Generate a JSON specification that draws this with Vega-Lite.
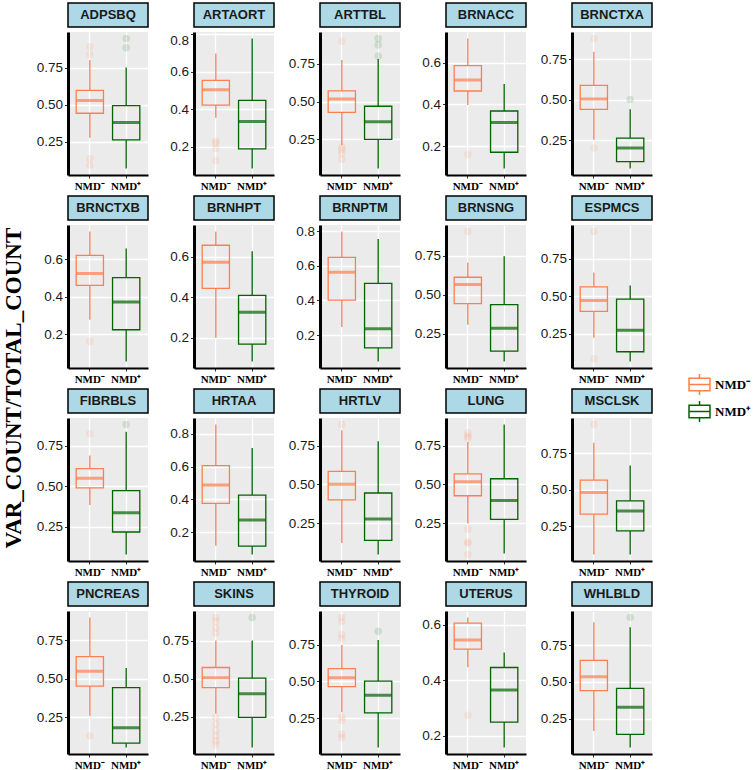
{
"$schema":"https://vega.github.io/schema/vega-lite/v6.json",
"padding":{"left":3,"top":2,"right":2,"bottom":2},
"title":{"text":"VAR_COUNT/TOTAL_COUNT","orient":"left","anchor":"middle","font":"Liberation Serif","fontSize":23,"fontWeight":"bold","color":"black","offset":10},
"datasets":{"d":[
{"t":"ADPSBQ","g":"NMD⁻","lo":0.275,"q1":0.441,"med":0.527,"q3":0.595,"hi":0.80},
{"t":"ADPSBQ","g":"NMD⁺","lo":0.068,"q1":0.261,"med":0.378,"q3":0.493,"hi":0.75},
{"t":"ARTAORT","g":"NMD⁻","lo":0.354,"q1":0.421,"med":0.503,"q3":0.553,"hi":0.696},
{"t":"ARTAORT","g":"NMD⁺","lo":0.083,"q1":0.188,"med":0.334,"q3":0.446,"hi":0.776},
{"t":"ARTTBL","g":"NMD⁻","lo":0.212,"q1":0.428,"med":0.517,"q3":0.57,"hi":0.773},
{"t":"ARTTBL","g":"NMD⁺","lo":0.059,"q1":0.251,"med":0.367,"q3":0.469,"hi":0.78},
{"t":"BRNACC","g":"NMD⁻","lo":0.397,"q1":0.464,"med":0.517,"q3":0.586,"hi":0.716},
{"t":"BRNACC","g":"NMD⁺","lo":0.092,"q1":0.17,"med":0.313,"q3":0.368,"hi":0.498},
{"t":"BRNCTXA","g":"NMD⁻","lo":0.252,"q1":0.439,"med":0.504,"q3":0.588,"hi":0.795},
{"t":"BRNCTXA","g":"NMD⁺","lo":0.074,"q1":0.117,"med":0.20,"q3":0.262,"hi":0.44},
{"t":"BRNCTXB","g":"NMD⁻","lo":0.277,"q1":0.46,"med":0.524,"q3":0.62,"hi":0.747},
{"t":"BRNCTXB","g":"NMD⁺","lo":0.055,"q1":0.224,"med":0.372,"q3":0.501,"hi":0.656},
{"t":"BRNHPT","g":"NMD⁻","lo":0.2,"q1":0.445,"med":0.574,"q3":0.658,"hi":0.726},
{"t":"BRNHPT","g":"NMD⁺","lo":0.083,"q1":0.169,"med":0.326,"q3":0.41,"hi":0.628},
{"t":"BRNPTM","g":"NMD⁻","lo":0.247,"q1":0.402,"med":0.562,"q3":0.649,"hi":0.798},
{"t":"BRNPTM","g":"NMD⁺","lo":0.047,"q1":0.126,"med":0.236,"q3":0.498,"hi":0.755},
{"t":"BRNSNG","g":"NMD⁻","lo":0.308,"q1":0.444,"med":0.566,"q3":0.613,"hi":0.707},
{"t":"BRNSNG","g":"NMD⁺","lo":0.073,"q1":0.139,"med":0.286,"q3":0.438,"hi":0.748},
{"t":"ESPMCS","g":"NMD⁻","lo":0.222,"q1":0.398,"med":0.471,"q3":0.562,"hi":0.658},
{"t":"ESPMCS","g":"NMD⁺","lo":0.064,"q1":0.129,"med":0.273,"q3":0.48,"hi":0.571},
{"t":"FIBRBLS","g":"NMD⁻","lo":0.383,"q1":0.49,"med":0.549,"q3":0.609,"hi":0.689},
{"t":"FIBRBLS","g":"NMD⁺","lo":0.078,"q1":0.217,"med":0.336,"q3":0.473,"hi":0.836},
{"t":"HRTAA","g":"NMD⁻","lo":0.117,"q1":0.376,"med":0.487,"q3":0.606,"hi":0.856},
{"t":"HRTAA","g":"NMD⁺","lo":0.064,"q1":0.115,"med":0.274,"q3":0.426,"hi":0.713},
{"t":"HRTLV","g":"NMD⁻","lo":0.121,"q1":0.399,"med":0.5,"q3":0.584,"hi":0.849},
{"t":"HRTLV","g":"NMD⁺","lo":0.047,"q1":0.138,"med":0.276,"q3":0.444,"hi":0.778},
{"t":"LUNG","g":"NMD⁻","lo":0.248,"q1":0.427,"med":0.517,"q3":0.569,"hi":0.774},
{"t":"LUNG","g":"NMD⁺","lo":0.054,"q1":0.274,"med":0.397,"q3":0.537,"hi":0.888},
{"t":"MSCLSK","g":"NMD⁻","lo":0.059,"q1":0.334,"med":0.482,"q3":0.566,"hi":0.82},
{"t":"MSCLSK","g":"NMD⁺","lo":0.059,"q1":0.22,"med":0.355,"q3":0.425,"hi":0.666},
{"t":"PNCREAS","g":"NMD⁻","lo":0.26,"q1":0.452,"med":0.548,"q3":0.643,"hi":0.896},
{"t":"PNCREAS","g":"NMD⁺","lo":0.054,"q1":0.082,"med":0.182,"q3":0.442,"hi":0.569},
{"t":"SKINS","g":"NMD⁻","lo":0.269,"q1":0.441,"med":0.507,"q3":0.574,"hi":0.753},
{"t":"SKINS","g":"NMD⁺","lo":0.046,"q1":0.245,"med":0.40,"q3":0.504,"hi":0.753},
{"t":"THYROID","g":"NMD⁻","lo":0.291,"q1":0.464,"med":0.525,"q3":0.587,"hi":0.747},
{"t":"THYROID","g":"NMD⁺","lo":0.052,"q1":0.287,"med":0.406,"q3":0.502,"hi":0.78},
{"t":"UTERUS","g":"NMD⁻","lo":0.447,"q1":0.512,"med":0.545,"q3":0.606,"hi":0.626},
{"t":"UTERUS","g":"NMD⁺","lo":0.158,"q1":0.249,"med":0.365,"q3":0.446,"hi":0.50},
{"t":"WHLBLD","g":"NMD⁻","lo":0.167,"q1":0.441,"med":0.536,"q3":0.647,"hi":0.907},
{"t":"WHLBLD","g":"NMD⁺","lo":0.054,"q1":0.143,"med":0.328,"q3":0.457,"hi":0.873},
{"t":"ADPSBQ","g":"NMD⁻","v":0.89},{"t":"ADPSBQ","g":"NMD⁻","v":0.84},{"t":"ADPSBQ","g":"NMD⁻","v":0.135},{"t":"ADPSBQ","g":"NMD⁻","v":0.09},
{"t":"ADPSBQ","g":"NMD⁺","v":0.946},{"t":"ADPSBQ","g":"NMD⁺","v":0.883},
{"t":"ARTAORT","g":"NMD⁻","v":0.229},{"t":"ARTAORT","g":"NMD⁻","v":0.217},{"t":"ARTAORT","g":"NMD⁻","v":0.19},{"t":"ARTAORT","g":"NMD⁻","v":0.126},
{"t":"ARTTBL","g":"NMD⁻","v":0.897},{"t":"ARTTBL","g":"NMD⁻","v":0.20},{"t":"ARTTBL","g":"NMD⁻","v":0.183},{"t":"ARTTBL","g":"NMD⁻","v":0.157},{"t":"ARTTBL","g":"NMD⁻","v":0.12},
{"t":"ARTTBL","g":"NMD⁺","v":0.915},{"t":"ARTTBL","g":"NMD⁺","v":0.873},{"t":"ARTTBL","g":"NMD⁺","v":0.80},
{"t":"BRNACC","g":"NMD⁻","v":0.159},
{"t":"BRNCTXA","g":"NMD⁻","v":0.877},{"t":"BRNCTXA","g":"NMD⁻","v":0.20},{"t":"BRNCTXA","g":"NMD⁺","v":0.50},
{"t":"BRNCTXB","g":"NMD⁻","v":0.162},
{"t":"BRNSNG","g":"NMD⁻","v":0.906},
{"t":"ESPMCS","g":"NMD⁻","v":0.931},{"t":"ESPMCS","g":"NMD⁻","v":0.084},
{"t":"FIBRBLS","g":"NMD⁻","v":0.824},{"t":"FIBRBLS","g":"NMD⁺","v":0.881},
{"t":"HRTLV","g":"NMD⁻","v":0.886},
{"t":"LUNG","g":"NMD⁻","v":0.834},{"t":"LUNG","g":"NMD⁻","v":0.812},{"t":"LUNG","g":"NMD⁻","v":0.80},{"t":"LUNG","g":"NMD⁻","v":0.211},{"t":"LUNG","g":"NMD⁻","v":0.129},{"t":"LUNG","g":"NMD⁻","v":0.118},{"t":"LUNG","g":"NMD⁻","v":0.047},
{"t":"MSCLSK","g":"NMD⁻","v":0.945},
{"t":"PNCREAS","g":"NMD⁻","v":0.13},
{"t":"SKINS","g":"NMD⁻","v":0.904},{"t":"SKINS","g":"NMD⁻","v":0.878},{"t":"SKINS","g":"NMD⁻","v":0.836},{"t":"SKINS","g":"NMD⁻","v":0.80},{"t":"SKINS","g":"NMD⁻","v":0.242},{"t":"SKINS","g":"NMD⁻","v":0.199},{"t":"SKINS","g":"NMD⁻","v":0.159},{"t":"SKINS","g":"NMD⁻","v":0.122},{"t":"SKINS","g":"NMD⁻","v":0.089},{"t":"SKINS","g":"NMD⁻","v":0.063},
{"t":"SKINS","g":"NMD⁺","v":0.904},
{"t":"THYROID","g":"NMD⁻","v":0.933},{"t":"THYROID","g":"NMD⁻","v":0.904},{"t":"THYROID","g":"NMD⁻","v":0.818},{"t":"THYROID","g":"NMD⁻","v":0.791},{"t":"THYROID","g":"NMD⁻","v":0.258},{"t":"THYROID","g":"NMD⁻","v":0.235},{"t":"THYROID","g":"NMD⁻","v":0.141},{"t":"THYROID","g":"NMD⁻","v":0.119},
{"t":"THYROID","g":"NMD⁺","v":0.839},
{"t":"UTERUS","g":"NMD⁻","v":0.274},
{"t":"WHLBLD","g":"NMD⁺","v":0.939}
]},
"columns":5,
"spacing":{"row":0,"column":13},
"align":{"row":"each","column":"all"},
"bounds":"full",
"concat":[
{"width":80,"height":24,"view":{"fill":"#ADD8E6","stroke":"black","strokeWidth":1.5},"data":{"values":[{"t":"ADPSBQ"}]},"mark":{"type":"text"},"encoding":{"text":{"field":"t"}}},
{"width":80,"height":24,"view":{"fill":"#ADD8E6","stroke":"black","strokeWidth":1.5},"data":{"values":[{"t":"ARTAORT"}]},"mark":{"type":"text"},"encoding":{"text":{"field":"t"}}},
{"width":80,"height":24,"view":{"fill":"#ADD8E6","stroke":"black","strokeWidth":1.5},"data":{"values":[{"t":"ARTTBL"}]},"mark":{"type":"text"},"encoding":{"text":{"field":"t"}}},
{"width":80,"height":24,"view":{"fill":"#ADD8E6","stroke":"black","strokeWidth":1.5},"data":{"values":[{"t":"BRNACC"}]},"mark":{"type":"text"},"encoding":{"text":{"field":"t"}}},
{"width":80,"height":24,"view":{"fill":"#ADD8E6","stroke":"black","strokeWidth":1.5},"data":{"values":[{"t":"BRNCTXA"}]},"mark":{"type":"text"},"encoding":{"text":{"field":"t"}}},
{"width":80,"height":143,"data":{"name":"d"},"transform":[{"filter":"datum.t==='ADPSBQ'"}],"encoding":{"x":{"field":"g","type":"nominal","sort":["NMD⁻","NMD⁺"],"title":null,"axis":{"grid":true,"bandPosition":0.5}},"color":{"field":"g","type":"nominal","title":null,"scale":{"domain":["NMD⁻","NMD⁺"],"range":["#FF7F50","#006400"]},"legend":{"orient":"none","legendX":620,"legendY":370,"symbolType":"M-1,-0.6H1V0.6H-1Z M-1,0H1 M0,-0.6V-1 M0,0.6V1","symbolSize":440,"symbolStrokeWidth":1.5,"symbolFillColor":"#F2F2F2"}}},"resolve":{"axis":{"y":"independent"}},"layer":[
{"layer":[
{"mark":{"type":"bar","filled":false,"strokeWidth":1.3},"encoding":{"y":{"field":"q1","type":"quantitative","scale":{"zero":false,"nice":false,"padding":6.5},"axis":{"title":null,"values":[0.25,0.5,0.75],"format":".2f"}},"y2":{"field":"q3"}}},
{"mark":{"type":"rule","strokeWidth":1.3},"encoding":{"y":{"field":"lo","type":"quantitative"},"y2":{"field":"q1"}}},
{"mark":{"type":"rule","strokeWidth":1.3},"encoding":{"y":{"field":"q3","type":"quantitative"},"y2":{"field":"hi"}}},
{"mark":{"type":"circle","filled":false,"size":13,"strokeWidth":4,"opacity":0.12},"encoding":{"y":{"field":"v","type":"quantitative"}}}]},
{"mark":{"type":"tick","filled":false,"thickness":1.5,"strokeWidth":1.5,"size":26},"encoding":{"y":{"field":"med","type":"quantitative","axis":{"title":null,"orient":"left","values":[0.125,0.375,0.625,0.875],"labels":false,"ticks":false,"domain":false,"gridWidth":0.6}}}}]},
{"width":80,"height":143,"data":{"name":"d"},"transform":[{"filter":"datum.t==='ARTAORT'"}],"encoding":{"x":{"field":"g","type":"nominal","sort":["NMD⁻","NMD⁺"],"title":null,"axis":{"grid":true,"bandPosition":0.5}},"color":{"field":"g","type":"nominal","title":null,"scale":{"domain":["NMD⁻","NMD⁺"],"range":["#FF7F50","#006400"]},"legend":{"orient":"none","legendX":620,"legendY":370,"symbolType":"M-1,-0.6H1V0.6H-1Z M-1,0H1 M0,-0.6V-1 M0,0.6V1","symbolSize":440,"symbolStrokeWidth":1.5,"symbolFillColor":"#F2F2F2"}}},"resolve":{"axis":{"y":"independent"}},"layer":[
{"layer":[
{"mark":{"type":"bar","filled":false,"strokeWidth":1.3},"encoding":{"y":{"field":"q1","type":"quantitative","scale":{"zero":false,"nice":false,"padding":6.5},"axis":{"title":null,"values":[0.2,0.4,0.6,0.8],"format":".1f","labelFlush":3}},"y2":{"field":"q3"}}},
{"mark":{"type":"rule","strokeWidth":1.3},"encoding":{"y":{"field":"lo","type":"quantitative"},"y2":{"field":"q1"}}},
{"mark":{"type":"rule","strokeWidth":1.3},"encoding":{"y":{"field":"q3","type":"quantitative"},"y2":{"field":"hi"}}},
{"mark":{"type":"circle","filled":false,"size":13,"strokeWidth":4,"opacity":0.12},"encoding":{"y":{"field":"v","type":"quantitative"}}}]},
{"mark":{"type":"tick","filled":false,"thickness":1.5,"strokeWidth":1.5,"size":26},"encoding":{"y":{"field":"med","type":"quantitative","axis":{"title":null,"orient":"left","values":[0.1,0.3,0.5,0.7,0.9],"labels":false,"ticks":false,"domain":false,"gridWidth":0.6}}}}]},
{"width":80,"height":143,"data":{"name":"d"},"transform":[{"filter":"datum.t==='ARTTBL'"}],"encoding":{"x":{"field":"g","type":"nominal","sort":["NMD⁻","NMD⁺"],"title":null,"axis":{"grid":true,"bandPosition":0.5}},"color":{"field":"g","type":"nominal","title":null,"scale":{"domain":["NMD⁻","NMD⁺"],"range":["#FF7F50","#006400"]},"legend":{"orient":"none","legendX":620,"legendY":370,"symbolType":"M-1,-0.6H1V0.6H-1Z M-1,0H1 M0,-0.6V-1 M0,0.6V1","symbolSize":440,"symbolStrokeWidth":1.5,"symbolFillColor":"#F2F2F2"}}},"resolve":{"axis":{"y":"independent"}},"layer":[
{"layer":[
{"mark":{"type":"bar","filled":false,"strokeWidth":1.3},"encoding":{"y":{"field":"q1","type":"quantitative","scale":{"zero":false,"nice":false,"padding":6.5},"axis":{"title":null,"values":[0.25,0.5,0.75],"format":".2f"}},"y2":{"field":"q3"}}},
{"mark":{"type":"rule","strokeWidth":1.3},"encoding":{"y":{"field":"lo","type":"quantitative"},"y2":{"field":"q1"}}},
{"mark":{"type":"rule","strokeWidth":1.3},"encoding":{"y":{"field":"q3","type":"quantitative"},"y2":{"field":"hi"}}},
{"mark":{"type":"circle","filled":false,"size":13,"strokeWidth":4,"opacity":0.12},"encoding":{"y":{"field":"v","type":"quantitative"}}}]},
{"mark":{"type":"tick","filled":false,"thickness":1.5,"strokeWidth":1.5,"size":26},"encoding":{"y":{"field":"med","type":"quantitative","axis":{"title":null,"orient":"left","values":[0.125,0.375,0.625,0.875],"labels":false,"ticks":false,"domain":false,"gridWidth":0.6}}}}]},
{"width":80,"height":143,"data":{"name":"d"},"transform":[{"filter":"datum.t==='BRNACC'"}],"encoding":{"x":{"field":"g","type":"nominal","sort":["NMD⁻","NMD⁺"],"title":null,"axis":{"grid":true,"bandPosition":0.5}},"color":{"field":"g","type":"nominal","title":null,"scale":{"domain":["NMD⁻","NMD⁺"],"range":["#FF7F50","#006400"]},"legend":{"orient":"none","legendX":620,"legendY":370,"symbolType":"M-1,-0.6H1V0.6H-1Z M-1,0H1 M0,-0.6V-1 M0,0.6V1","symbolSize":440,"symbolStrokeWidth":1.5,"symbolFillColor":"#F2F2F2"}}},"resolve":{"axis":{"y":"independent"}},"layer":[
{"layer":[
{"mark":{"type":"bar","filled":false,"strokeWidth":1.3},"encoding":{"y":{"field":"q1","type":"quantitative","scale":{"zero":false,"nice":false,"padding":6.5},"axis":{"title":null,"values":[0.2,0.4,0.6,0.8],"format":".1f"}},"y2":{"field":"q3"}}},
{"mark":{"type":"rule","strokeWidth":1.3},"encoding":{"y":{"field":"lo","type":"quantitative"},"y2":{"field":"q1"}}},
{"mark":{"type":"rule","strokeWidth":1.3},"encoding":{"y":{"field":"q3","type":"quantitative"},"y2":{"field":"hi"}}},
{"mark":{"type":"circle","filled":false,"size":13,"strokeWidth":4,"opacity":0.12},"encoding":{"y":{"field":"v","type":"quantitative"}}}]},
{"mark":{"type":"tick","filled":false,"thickness":1.5,"strokeWidth":1.5,"size":26},"encoding":{"y":{"field":"med","type":"quantitative","axis":{"title":null,"orient":"left","values":[0.1,0.3,0.5,0.7,0.9],"labels":false,"ticks":false,"domain":false,"gridWidth":0.6}}}}]},
{"width":80,"height":143,"data":{"name":"d"},"transform":[{"filter":"datum.t==='BRNCTXA'"}],"encoding":{"x":{"field":"g","type":"nominal","sort":["NMD⁻","NMD⁺"],"title":null,"axis":{"grid":true,"bandPosition":0.5}},"color":{"field":"g","type":"nominal","title":null,"scale":{"domain":["NMD⁻","NMD⁺"],"range":["#FF7F50","#006400"]},"legend":{"orient":"none","legendX":620,"legendY":370,"symbolType":"M-1,-0.6H1V0.6H-1Z M-1,0H1 M0,-0.6V-1 M0,0.6V1","symbolSize":440,"symbolStrokeWidth":1.5,"symbolFillColor":"#F2F2F2"}}},"resolve":{"axis":{"y":"independent"}},"layer":[
{"layer":[
{"mark":{"type":"bar","filled":false,"strokeWidth":1.3},"encoding":{"y":{"field":"q1","type":"quantitative","scale":{"zero":false,"nice":false,"padding":6.5},"axis":{"title":null,"values":[0.25,0.5,0.75],"format":".2f"}},"y2":{"field":"q3"}}},
{"mark":{"type":"rule","strokeWidth":1.3},"encoding":{"y":{"field":"lo","type":"quantitative"},"y2":{"field":"q1"}}},
{"mark":{"type":"rule","strokeWidth":1.3},"encoding":{"y":{"field":"q3","type":"quantitative"},"y2":{"field":"hi"}}},
{"mark":{"type":"circle","filled":false,"size":13,"strokeWidth":4,"opacity":0.12},"encoding":{"y":{"field":"v","type":"quantitative"}}}]},
{"mark":{"type":"tick","filled":false,"thickness":1.5,"strokeWidth":1.5,"size":26},"encoding":{"y":{"field":"med","type":"quantitative","axis":{"title":null,"orient":"left","values":[0.125,0.375,0.625,0.875],"labels":false,"ticks":false,"domain":false,"gridWidth":0.6}}}}]},
{"width":80,"height":24,"view":{"fill":"#ADD8E6","stroke":"black","strokeWidth":1.5},"data":{"values":[{"t":"BRNCTXB"}]},"mark":{"type":"text"},"encoding":{"text":{"field":"t"}}},
{"width":80,"height":24,"view":{"fill":"#ADD8E6","stroke":"black","strokeWidth":1.5},"data":{"values":[{"t":"BRNHPT"}]},"mark":{"type":"text"},"encoding":{"text":{"field":"t"}}},
{"width":80,"height":24,"view":{"fill":"#ADD8E6","stroke":"black","strokeWidth":1.5},"data":{"values":[{"t":"BRNPTM"}]},"mark":{"type":"text"},"encoding":{"text":{"field":"t"}}},
{"width":80,"height":24,"view":{"fill":"#ADD8E6","stroke":"black","strokeWidth":1.5},"data":{"values":[{"t":"BRNSNG"}]},"mark":{"type":"text"},"encoding":{"text":{"field":"t"}}},
{"width":80,"height":24,"view":{"fill":"#ADD8E6","stroke":"black","strokeWidth":1.5},"data":{"values":[{"t":"ESPMCS"}]},"mark":{"type":"text"},"encoding":{"text":{"field":"t"}}},
{"width":80,"height":143,"data":{"name":"d"},"transform":[{"filter":"datum.t==='BRNCTXB'"}],"encoding":{"x":{"field":"g","type":"nominal","sort":["NMD⁻","NMD⁺"],"title":null,"axis":{"grid":true,"bandPosition":0.5}},"color":{"field":"g","type":"nominal","title":null,"scale":{"domain":["NMD⁻","NMD⁺"],"range":["#FF7F50","#006400"]},"legend":{"orient":"none","legendX":620,"legendY":370,"symbolType":"M-1,-0.6H1V0.6H-1Z M-1,0H1 M0,-0.6V-1 M0,0.6V1","symbolSize":440,"symbolStrokeWidth":1.5,"symbolFillColor":"#F2F2F2"}}},"resolve":{"axis":{"y":"independent"}},"layer":[
{"layer":[
{"mark":{"type":"bar","filled":false,"strokeWidth":1.3},"encoding":{"y":{"field":"q1","type":"quantitative","scale":{"zero":false,"nice":false,"padding":6.5},"axis":{"title":null,"values":[0.2,0.4,0.6,0.8],"format":".1f"}},"y2":{"field":"q3"}}},
{"mark":{"type":"rule","strokeWidth":1.3},"encoding":{"y":{"field":"lo","type":"quantitative"},"y2":{"field":"q1"}}},
{"mark":{"type":"rule","strokeWidth":1.3},"encoding":{"y":{"field":"q3","type":"quantitative"},"y2":{"field":"hi"}}},
{"mark":{"type":"circle","filled":false,"size":13,"strokeWidth":4,"opacity":0.12},"encoding":{"y":{"field":"v","type":"quantitative"}}}]},
{"mark":{"type":"tick","filled":false,"thickness":1.5,"strokeWidth":1.5,"size":26},"encoding":{"y":{"field":"med","type":"quantitative","axis":{"title":null,"orient":"left","values":[0.1,0.3,0.5,0.7,0.9],"labels":false,"ticks":false,"domain":false,"gridWidth":0.6}}}}]},
{"width":80,"height":143,"data":{"name":"d"},"transform":[{"filter":"datum.t==='BRNHPT'"}],"encoding":{"x":{"field":"g","type":"nominal","sort":["NMD⁻","NMD⁺"],"title":null,"axis":{"grid":true,"bandPosition":0.5}},"color":{"field":"g","type":"nominal","title":null,"scale":{"domain":["NMD⁻","NMD⁺"],"range":["#FF7F50","#006400"]},"legend":{"orient":"none","legendX":620,"legendY":370,"symbolType":"M-1,-0.6H1V0.6H-1Z M-1,0H1 M0,-0.6V-1 M0,0.6V1","symbolSize":440,"symbolStrokeWidth":1.5,"symbolFillColor":"#F2F2F2"}}},"resolve":{"axis":{"y":"independent"}},"layer":[
{"layer":[
{"mark":{"type":"bar","filled":false,"strokeWidth":1.3},"encoding":{"y":{"field":"q1","type":"quantitative","scale":{"zero":false,"nice":false,"padding":6.5},"axis":{"title":null,"values":[0.2,0.4,0.6,0.8],"format":".1f"}},"y2":{"field":"q3"}}},
{"mark":{"type":"rule","strokeWidth":1.3},"encoding":{"y":{"field":"lo","type":"quantitative"},"y2":{"field":"q1"}}},
{"mark":{"type":"rule","strokeWidth":1.3},"encoding":{"y":{"field":"q3","type":"quantitative"},"y2":{"field":"hi"}}},
{"mark":{"type":"circle","filled":false,"size":13,"strokeWidth":4,"opacity":0.12},"encoding":{"y":{"field":"v","type":"quantitative"}}}]},
{"mark":{"type":"tick","filled":false,"thickness":1.5,"strokeWidth":1.5,"size":26},"encoding":{"y":{"field":"med","type":"quantitative","axis":{"title":null,"orient":"left","values":[0.1,0.3,0.5,0.7,0.9],"labels":false,"ticks":false,"domain":false,"gridWidth":0.6}}}}]},
{"width":80,"height":143,"data":{"name":"d"},"transform":[{"filter":"datum.t==='BRNPTM'"}],"encoding":{"x":{"field":"g","type":"nominal","sort":["NMD⁻","NMD⁺"],"title":null,"axis":{"grid":true,"bandPosition":0.5}},"color":{"field":"g","type":"nominal","title":null,"scale":{"domain":["NMD⁻","NMD⁺"],"range":["#FF7F50","#006400"]},"legend":{"orient":"none","legendX":620,"legendY":370,"symbolType":"M-1,-0.6H1V0.6H-1Z M-1,0H1 M0,-0.6V-1 M0,0.6V1","symbolSize":440,"symbolStrokeWidth":1.5,"symbolFillColor":"#F2F2F2"}}},"resolve":{"axis":{"y":"independent"}},"layer":[
{"layer":[
{"mark":{"type":"bar","filled":false,"strokeWidth":1.3},"encoding":{"y":{"field":"q1","type":"quantitative","scale":{"zero":false,"nice":false,"padding":6.5},"axis":{"title":null,"values":[0.2,0.4,0.6,0.8],"format":".1f"}},"y2":{"field":"q3"}}},
{"mark":{"type":"rule","strokeWidth":1.3},"encoding":{"y":{"field":"lo","type":"quantitative"},"y2":{"field":"q1"}}},
{"mark":{"type":"rule","strokeWidth":1.3},"encoding":{"y":{"field":"q3","type":"quantitative"},"y2":{"field":"hi"}}},
{"mark":{"type":"circle","filled":false,"size":13,"strokeWidth":4,"opacity":0.12},"encoding":{"y":{"field":"v","type":"quantitative"}}}]},
{"mark":{"type":"tick","filled":false,"thickness":1.5,"strokeWidth":1.5,"size":26},"encoding":{"y":{"field":"med","type":"quantitative","axis":{"title":null,"orient":"left","values":[0.1,0.3,0.5,0.7,0.9],"labels":false,"ticks":false,"domain":false,"gridWidth":0.6}}}}]},
{"width":80,"height":143,"data":{"name":"d"},"transform":[{"filter":"datum.t==='BRNSNG'"}],"encoding":{"x":{"field":"g","type":"nominal","sort":["NMD⁻","NMD⁺"],"title":null,"axis":{"grid":true,"bandPosition":0.5}},"color":{"field":"g","type":"nominal","title":null,"scale":{"domain":["NMD⁻","NMD⁺"],"range":["#FF7F50","#006400"]},"legend":{"orient":"none","legendX":620,"legendY":370,"symbolType":"M-1,-0.6H1V0.6H-1Z M-1,0H1 M0,-0.6V-1 M0,0.6V1","symbolSize":440,"symbolStrokeWidth":1.5,"symbolFillColor":"#F2F2F2"}}},"resolve":{"axis":{"y":"independent"}},"layer":[
{"layer":[
{"mark":{"type":"bar","filled":false,"strokeWidth":1.3},"encoding":{"y":{"field":"q1","type":"quantitative","scale":{"zero":false,"nice":false,"padding":6.5},"axis":{"title":null,"values":[0.25,0.5,0.75],"format":".2f"}},"y2":{"field":"q3"}}},
{"mark":{"type":"rule","strokeWidth":1.3},"encoding":{"y":{"field":"lo","type":"quantitative"},"y2":{"field":"q1"}}},
{"mark":{"type":"rule","strokeWidth":1.3},"encoding":{"y":{"field":"q3","type":"quantitative"},"y2":{"field":"hi"}}},
{"mark":{"type":"circle","filled":false,"size":13,"strokeWidth":4,"opacity":0.12},"encoding":{"y":{"field":"v","type":"quantitative"}}}]},
{"mark":{"type":"tick","filled":false,"thickness":1.5,"strokeWidth":1.5,"size":26},"encoding":{"y":{"field":"med","type":"quantitative","axis":{"title":null,"orient":"left","values":[0.125,0.375,0.625,0.875],"labels":false,"ticks":false,"domain":false,"gridWidth":0.6}}}}]},
{"width":80,"height":143,"data":{"name":"d"},"transform":[{"filter":"datum.t==='ESPMCS'"}],"encoding":{"x":{"field":"g","type":"nominal","sort":["NMD⁻","NMD⁺"],"title":null,"axis":{"grid":true,"bandPosition":0.5}},"color":{"field":"g","type":"nominal","title":null,"scale":{"domain":["NMD⁻","NMD⁺"],"range":["#FF7F50","#006400"]},"legend":{"orient":"none","legendX":620,"legendY":370,"symbolType":"M-1,-0.6H1V0.6H-1Z M-1,0H1 M0,-0.6V-1 M0,0.6V1","symbolSize":440,"symbolStrokeWidth":1.5,"symbolFillColor":"#F2F2F2"}}},"resolve":{"axis":{"y":"independent"}},"layer":[
{"layer":[
{"mark":{"type":"bar","filled":false,"strokeWidth":1.3},"encoding":{"y":{"field":"q1","type":"quantitative","scale":{"zero":false,"nice":false,"padding":6.5},"axis":{"title":null,"values":[0.25,0.5,0.75],"format":".2f"}},"y2":{"field":"q3"}}},
{"mark":{"type":"rule","strokeWidth":1.3},"encoding":{"y":{"field":"lo","type":"quantitative"},"y2":{"field":"q1"}}},
{"mark":{"type":"rule","strokeWidth":1.3},"encoding":{"y":{"field":"q3","type":"quantitative"},"y2":{"field":"hi"}}},
{"mark":{"type":"circle","filled":false,"size":13,"strokeWidth":4,"opacity":0.12},"encoding":{"y":{"field":"v","type":"quantitative"}}}]},
{"mark":{"type":"tick","filled":false,"thickness":1.5,"strokeWidth":1.5,"size":26},"encoding":{"y":{"field":"med","type":"quantitative","axis":{"title":null,"orient":"left","values":[0.125,0.375,0.625,0.875],"labels":false,"ticks":false,"domain":false,"gridWidth":0.6}}}}]},
{"width":80,"height":24,"view":{"fill":"#ADD8E6","stroke":"black","strokeWidth":1.5},"data":{"values":[{"t":"FIBRBLS"}]},"mark":{"type":"text"},"encoding":{"text":{"field":"t"}}},
{"width":80,"height":24,"view":{"fill":"#ADD8E6","stroke":"black","strokeWidth":1.5},"data":{"values":[{"t":"HRTAA"}]},"mark":{"type":"text"},"encoding":{"text":{"field":"t"}}},
{"width":80,"height":24,"view":{"fill":"#ADD8E6","stroke":"black","strokeWidth":1.5},"data":{"values":[{"t":"HRTLV"}]},"mark":{"type":"text"},"encoding":{"text":{"field":"t"}}},
{"width":80,"height":24,"view":{"fill":"#ADD8E6","stroke":"black","strokeWidth":1.5},"data":{"values":[{"t":"LUNG"}]},"mark":{"type":"text"},"encoding":{"text":{"field":"t"}}},
{"width":80,"height":24,"view":{"fill":"#ADD8E6","stroke":"black","strokeWidth":1.5},"data":{"values":[{"t":"MSCLSK"}]},"mark":{"type":"text"},"encoding":{"text":{"field":"t"}}},
{"width":80,"height":143,"data":{"name":"d"},"transform":[{"filter":"datum.t==='FIBRBLS'"}],"encoding":{"x":{"field":"g","type":"nominal","sort":["NMD⁻","NMD⁺"],"title":null,"axis":{"grid":true,"bandPosition":0.5}},"color":{"field":"g","type":"nominal","title":null,"scale":{"domain":["NMD⁻","NMD⁺"],"range":["#FF7F50","#006400"]},"legend":{"orient":"none","legendX":620,"legendY":370,"symbolType":"M-1,-0.6H1V0.6H-1Z M-1,0H1 M0,-0.6V-1 M0,0.6V1","symbolSize":440,"symbolStrokeWidth":1.5,"symbolFillColor":"#F2F2F2"}}},"resolve":{"axis":{"y":"independent"}},"layer":[
{"layer":[
{"mark":{"type":"bar","filled":false,"strokeWidth":1.3},"encoding":{"y":{"field":"q1","type":"quantitative","scale":{"zero":false,"nice":false,"padding":6.5},"axis":{"title":null,"values":[0.25,0.5,0.75],"format":".2f"}},"y2":{"field":"q3"}}},
{"mark":{"type":"rule","strokeWidth":1.3},"encoding":{"y":{"field":"lo","type":"quantitative"},"y2":{"field":"q1"}}},
{"mark":{"type":"rule","strokeWidth":1.3},"encoding":{"y":{"field":"q3","type":"quantitative"},"y2":{"field":"hi"}}},
{"mark":{"type":"circle","filled":false,"size":13,"strokeWidth":4,"opacity":0.12},"encoding":{"y":{"field":"v","type":"quantitative"}}}]},
{"mark":{"type":"tick","filled":false,"thickness":1.5,"strokeWidth":1.5,"size":26},"encoding":{"y":{"field":"med","type":"quantitative","axis":{"title":null,"orient":"left","values":[0.125,0.375,0.625,0.875],"labels":false,"ticks":false,"domain":false,"gridWidth":0.6}}}}]},
{"width":80,"height":143,"data":{"name":"d"},"transform":[{"filter":"datum.t==='HRTAA'"}],"encoding":{"x":{"field":"g","type":"nominal","sort":["NMD⁻","NMD⁺"],"title":null,"axis":{"grid":true,"bandPosition":0.5}},"color":{"field":"g","type":"nominal","title":null,"scale":{"domain":["NMD⁻","NMD⁺"],"range":["#FF7F50","#006400"]},"legend":{"orient":"none","legendX":620,"legendY":370,"symbolType":"M-1,-0.6H1V0.6H-1Z M-1,0H1 M0,-0.6V-1 M0,0.6V1","symbolSize":440,"symbolStrokeWidth":1.5,"symbolFillColor":"#F2F2F2"}}},"resolve":{"axis":{"y":"independent"}},"layer":[
{"layer":[
{"mark":{"type":"bar","filled":false,"strokeWidth":1.3},"encoding":{"y":{"field":"q1","type":"quantitative","scale":{"zero":false,"nice":false,"padding":6.5},"axis":{"title":null,"values":[0.2,0.4,0.6,0.8],"format":".1f"}},"y2":{"field":"q3"}}},
{"mark":{"type":"rule","strokeWidth":1.3},"encoding":{"y":{"field":"lo","type":"quantitative"},"y2":{"field":"q1"}}},
{"mark":{"type":"rule","strokeWidth":1.3},"encoding":{"y":{"field":"q3","type":"quantitative"},"y2":{"field":"hi"}}},
{"mark":{"type":"circle","filled":false,"size":13,"strokeWidth":4,"opacity":0.12},"encoding":{"y":{"field":"v","type":"quantitative"}}}]},
{"mark":{"type":"tick","filled":false,"thickness":1.5,"strokeWidth":1.5,"size":26},"encoding":{"y":{"field":"med","type":"quantitative","axis":{"title":null,"orient":"left","values":[0.1,0.3,0.5,0.7,0.9],"labels":false,"ticks":false,"domain":false,"gridWidth":0.6}}}}]},
{"width":80,"height":143,"data":{"name":"d"},"transform":[{"filter":"datum.t==='HRTLV'"}],"encoding":{"x":{"field":"g","type":"nominal","sort":["NMD⁻","NMD⁺"],"title":null,"axis":{"grid":true,"bandPosition":0.5}},"color":{"field":"g","type":"nominal","title":null,"scale":{"domain":["NMD⁻","NMD⁺"],"range":["#FF7F50","#006400"]},"legend":{"orient":"none","legendX":620,"legendY":370,"symbolType":"M-1,-0.6H1V0.6H-1Z M-1,0H1 M0,-0.6V-1 M0,0.6V1","symbolSize":440,"symbolStrokeWidth":1.5,"symbolFillColor":"#F2F2F2"}}},"resolve":{"axis":{"y":"independent"}},"layer":[
{"layer":[
{"mark":{"type":"bar","filled":false,"strokeWidth":1.3},"encoding":{"y":{"field":"q1","type":"quantitative","scale":{"zero":false,"nice":false,"padding":6.5},"axis":{"title":null,"values":[0.25,0.5,0.75],"format":".2f"}},"y2":{"field":"q3"}}},
{"mark":{"type":"rule","strokeWidth":1.3},"encoding":{"y":{"field":"lo","type":"quantitative"},"y2":{"field":"q1"}}},
{"mark":{"type":"rule","strokeWidth":1.3},"encoding":{"y":{"field":"q3","type":"quantitative"},"y2":{"field":"hi"}}},
{"mark":{"type":"circle","filled":false,"size":13,"strokeWidth":4,"opacity":0.12},"encoding":{"y":{"field":"v","type":"quantitative"}}}]},
{"mark":{"type":"tick","filled":false,"thickness":1.5,"strokeWidth":1.5,"size":26},"encoding":{"y":{"field":"med","type":"quantitative","axis":{"title":null,"orient":"left","values":[0.125,0.375,0.625,0.875],"labels":false,"ticks":false,"domain":false,"gridWidth":0.6}}}}]},
{"width":80,"height":143,"data":{"name":"d"},"transform":[{"filter":"datum.t==='LUNG'"}],"encoding":{"x":{"field":"g","type":"nominal","sort":["NMD⁻","NMD⁺"],"title":null,"axis":{"grid":true,"bandPosition":0.5}},"color":{"field":"g","type":"nominal","title":null,"scale":{"domain":["NMD⁻","NMD⁺"],"range":["#FF7F50","#006400"]},"legend":{"orient":"none","legendX":620,"legendY":370,"symbolType":"M-1,-0.6H1V0.6H-1Z M-1,0H1 M0,-0.6V-1 M0,0.6V1","symbolSize":440,"symbolStrokeWidth":1.5,"symbolFillColor":"#F2F2F2"}}},"resolve":{"axis":{"y":"independent"}},"layer":[
{"layer":[
{"mark":{"type":"bar","filled":false,"strokeWidth":1.3},"encoding":{"y":{"field":"q1","type":"quantitative","scale":{"zero":false,"nice":false,"padding":6.5},"axis":{"title":null,"values":[0.25,0.5,0.75],"format":".2f"}},"y2":{"field":"q3"}}},
{"mark":{"type":"rule","strokeWidth":1.3},"encoding":{"y":{"field":"lo","type":"quantitative"},"y2":{"field":"q1"}}},
{"mark":{"type":"rule","strokeWidth":1.3},"encoding":{"y":{"field":"q3","type":"quantitative"},"y2":{"field":"hi"}}},
{"mark":{"type":"circle","filled":false,"size":13,"strokeWidth":4,"opacity":0.12},"encoding":{"y":{"field":"v","type":"quantitative"}}}]},
{"mark":{"type":"tick","filled":false,"thickness":1.5,"strokeWidth":1.5,"size":26},"encoding":{"y":{"field":"med","type":"quantitative","axis":{"title":null,"orient":"left","values":[0.125,0.375,0.625,0.875],"labels":false,"ticks":false,"domain":false,"gridWidth":0.6}}}}]},
{"width":80,"height":143,"data":{"name":"d"},"transform":[{"filter":"datum.t==='MSCLSK'"}],"encoding":{"x":{"field":"g","type":"nominal","sort":["NMD⁻","NMD⁺"],"title":null,"axis":{"grid":true,"bandPosition":0.5}},"color":{"field":"g","type":"nominal","title":null,"scale":{"domain":["NMD⁻","NMD⁺"],"range":["#FF7F50","#006400"]},"legend":{"orient":"none","legendX":620,"legendY":370,"symbolType":"M-1,-0.6H1V0.6H-1Z M-1,0H1 M0,-0.6V-1 M0,0.6V1","symbolSize":440,"symbolStrokeWidth":1.5,"symbolFillColor":"#F2F2F2"}}},"resolve":{"axis":{"y":"independent"}},"layer":[
{"layer":[
{"mark":{"type":"bar","filled":false,"strokeWidth":1.3},"encoding":{"y":{"field":"q1","type":"quantitative","scale":{"zero":false,"nice":false,"padding":6.5},"axis":{"title":null,"values":[0.25,0.5,0.75],"format":".2f"}},"y2":{"field":"q3"}}},
{"mark":{"type":"rule","strokeWidth":1.3},"encoding":{"y":{"field":"lo","type":"quantitative"},"y2":{"field":"q1"}}},
{"mark":{"type":"rule","strokeWidth":1.3},"encoding":{"y":{"field":"q3","type":"quantitative"},"y2":{"field":"hi"}}},
{"mark":{"type":"circle","filled":false,"size":13,"strokeWidth":4,"opacity":0.12},"encoding":{"y":{"field":"v","type":"quantitative"}}}]},
{"mark":{"type":"tick","filled":false,"thickness":1.5,"strokeWidth":1.5,"size":26},"encoding":{"y":{"field":"med","type":"quantitative","axis":{"title":null,"orient":"left","values":[0.125,0.375,0.625,0.875],"labels":false,"ticks":false,"domain":false,"gridWidth":0.6}}}}]},
{"width":80,"height":24,"view":{"fill":"#ADD8E6","stroke":"black","strokeWidth":1.5},"data":{"values":[{"t":"PNCREAS"}]},"mark":{"type":"text"},"encoding":{"text":{"field":"t"}}},
{"width":80,"height":24,"view":{"fill":"#ADD8E6","stroke":"black","strokeWidth":1.5},"data":{"values":[{"t":"SKINS"}]},"mark":{"type":"text"},"encoding":{"text":{"field":"t"}}},
{"width":80,"height":24,"view":{"fill":"#ADD8E6","stroke":"black","strokeWidth":1.5},"data":{"values":[{"t":"THYROID"}]},"mark":{"type":"text"},"encoding":{"text":{"field":"t"}}},
{"width":80,"height":24,"view":{"fill":"#ADD8E6","stroke":"black","strokeWidth":1.5},"data":{"values":[{"t":"UTERUS"}]},"mark":{"type":"text"},"encoding":{"text":{"field":"t"}}},
{"width":80,"height":24,"view":{"fill":"#ADD8E6","stroke":"black","strokeWidth":1.5},"data":{"values":[{"t":"WHLBLD"}]},"mark":{"type":"text"},"encoding":{"text":{"field":"t"}}},
{"width":80,"height":143,"data":{"name":"d"},"transform":[{"filter":"datum.t==='PNCREAS'"}],"encoding":{"x":{"field":"g","type":"nominal","sort":["NMD⁻","NMD⁺"],"title":null,"axis":{"grid":true,"bandPosition":0.5}},"color":{"field":"g","type":"nominal","title":null,"scale":{"domain":["NMD⁻","NMD⁺"],"range":["#FF7F50","#006400"]},"legend":{"orient":"none","legendX":620,"legendY":370,"symbolType":"M-1,-0.6H1V0.6H-1Z M-1,0H1 M0,-0.6V-1 M0,0.6V1","symbolSize":440,"symbolStrokeWidth":1.5,"symbolFillColor":"#F2F2F2"}}},"resolve":{"axis":{"y":"independent"}},"layer":[
{"layer":[
{"mark":{"type":"bar","filled":false,"strokeWidth":1.3},"encoding":{"y":{"field":"q1","type":"quantitative","scale":{"zero":false,"nice":false,"padding":6.5},"axis":{"title":null,"values":[0.25,0.5,0.75],"format":".2f"}},"y2":{"field":"q3"}}},
{"mark":{"type":"rule","strokeWidth":1.3},"encoding":{"y":{"field":"lo","type":"quantitative"},"y2":{"field":"q1"}}},
{"mark":{"type":"rule","strokeWidth":1.3},"encoding":{"y":{"field":"q3","type":"quantitative"},"y2":{"field":"hi"}}},
{"mark":{"type":"circle","filled":false,"size":13,"strokeWidth":4,"opacity":0.12},"encoding":{"y":{"field":"v","type":"quantitative"}}}]},
{"mark":{"type":"tick","filled":false,"thickness":1.5,"strokeWidth":1.5,"size":26},"encoding":{"y":{"field":"med","type":"quantitative","axis":{"title":null,"orient":"left","values":[0.125,0.375,0.625,0.875],"labels":false,"ticks":false,"domain":false,"gridWidth":0.6}}}}]},
{"width":80,"height":143,"data":{"name":"d"},"transform":[{"filter":"datum.t==='SKINS'"}],"encoding":{"x":{"field":"g","type":"nominal","sort":["NMD⁻","NMD⁺"],"title":null,"axis":{"grid":true,"bandPosition":0.5}},"color":{"field":"g","type":"nominal","title":null,"scale":{"domain":["NMD⁻","NMD⁺"],"range":["#FF7F50","#006400"]},"legend":{"orient":"none","legendX":620,"legendY":370,"symbolType":"M-1,-0.6H1V0.6H-1Z M-1,0H1 M0,-0.6V-1 M0,0.6V1","symbolSize":440,"symbolStrokeWidth":1.5,"symbolFillColor":"#F2F2F2"}}},"resolve":{"axis":{"y":"independent"}},"layer":[
{"layer":[
{"mark":{"type":"bar","filled":false,"strokeWidth":1.3},"encoding":{"y":{"field":"q1","type":"quantitative","scale":{"zero":false,"nice":false,"padding":6.5},"axis":{"title":null,"values":[0.25,0.5,0.75],"format":".2f"}},"y2":{"field":"q3"}}},
{"mark":{"type":"rule","strokeWidth":1.3},"encoding":{"y":{"field":"lo","type":"quantitative"},"y2":{"field":"q1"}}},
{"mark":{"type":"rule","strokeWidth":1.3},"encoding":{"y":{"field":"q3","type":"quantitative"},"y2":{"field":"hi"}}},
{"mark":{"type":"circle","filled":false,"size":13,"strokeWidth":4,"opacity":0.12},"encoding":{"y":{"field":"v","type":"quantitative"}}}]},
{"mark":{"type":"tick","filled":false,"thickness":1.5,"strokeWidth":1.5,"size":26},"encoding":{"y":{"field":"med","type":"quantitative","axis":{"title":null,"orient":"left","values":[0.125,0.375,0.625,0.875],"labels":false,"ticks":false,"domain":false,"gridWidth":0.6}}}}]},
{"width":80,"height":143,"data":{"name":"d"},"transform":[{"filter":"datum.t==='THYROID'"}],"encoding":{"x":{"field":"g","type":"nominal","sort":["NMD⁻","NMD⁺"],"title":null,"axis":{"grid":true,"bandPosition":0.5}},"color":{"field":"g","type":"nominal","title":null,"scale":{"domain":["NMD⁻","NMD⁺"],"range":["#FF7F50","#006400"]},"legend":{"orient":"none","legendX":620,"legendY":370,"symbolType":"M-1,-0.6H1V0.6H-1Z M-1,0H1 M0,-0.6V-1 M0,0.6V1","symbolSize":440,"symbolStrokeWidth":1.5,"symbolFillColor":"#F2F2F2"}}},"resolve":{"axis":{"y":"independent"}},"layer":[
{"layer":[
{"mark":{"type":"bar","filled":false,"strokeWidth":1.3},"encoding":{"y":{"field":"q1","type":"quantitative","scale":{"zero":false,"nice":false,"padding":6.5},"axis":{"title":null,"values":[0.25,0.5,0.75],"format":".2f"}},"y2":{"field":"q3"}}},
{"mark":{"type":"rule","strokeWidth":1.3},"encoding":{"y":{"field":"lo","type":"quantitative"},"y2":{"field":"q1"}}},
{"mark":{"type":"rule","strokeWidth":1.3},"encoding":{"y":{"field":"q3","type":"quantitative"},"y2":{"field":"hi"}}},
{"mark":{"type":"circle","filled":false,"size":13,"strokeWidth":4,"opacity":0.12},"encoding":{"y":{"field":"v","type":"quantitative"}}}]},
{"mark":{"type":"tick","filled":false,"thickness":1.5,"strokeWidth":1.5,"size":26},"encoding":{"y":{"field":"med","type":"quantitative","axis":{"title":null,"orient":"left","values":[0.125,0.375,0.625,0.875],"labels":false,"ticks":false,"domain":false,"gridWidth":0.6}}}}]},
{"width":80,"height":143,"data":{"name":"d"},"transform":[{"filter":"datum.t==='UTERUS'"}],"encoding":{"x":{"field":"g","type":"nominal","sort":["NMD⁻","NMD⁺"],"title":null,"axis":{"grid":true,"bandPosition":0.5}},"color":{"field":"g","type":"nominal","title":null,"scale":{"domain":["NMD⁻","NMD⁺"],"range":["#FF7F50","#006400"]},"legend":{"orient":"none","legendX":620,"legendY":370,"symbolType":"M-1,-0.6H1V0.6H-1Z M-1,0H1 M0,-0.6V-1 M0,0.6V1","symbolSize":440,"symbolStrokeWidth":1.5,"symbolFillColor":"#F2F2F2"}}},"resolve":{"axis":{"y":"independent"}},"layer":[
{"layer":[
{"mark":{"type":"bar","filled":false,"strokeWidth":1.3},"encoding":{"y":{"field":"q1","type":"quantitative","scale":{"zero":false,"nice":false,"padding":6.5},"axis":{"title":null,"values":[0.2,0.3,0.4,0.5,0.6],"format":".1f"}},"y2":{"field":"q3"}}},
{"mark":{"type":"rule","strokeWidth":1.3},"encoding":{"y":{"field":"lo","type":"quantitative"},"y2":{"field":"q1"}}},
{"mark":{"type":"rule","strokeWidth":1.3},"encoding":{"y":{"field":"q3","type":"quantitative"},"y2":{"field":"hi"}}},
{"mark":{"type":"circle","filled":false,"size":13,"strokeWidth":4,"opacity":0.12},"encoding":{"y":{"field":"v","type":"quantitative"}}}]},
{"mark":{"type":"tick","filled":false,"thickness":1.5,"strokeWidth":1.5,"size":26},"encoding":{"y":{"field":"med","type":"quantitative","axis":{"title":null,"orient":"left","values":[0.15,0.25,0.35,0.45,0.55,0.65],"labels":false,"ticks":false,"domain":false,"gridWidth":0.6}}}}]},
{"width":80,"height":143,"data":{"name":"d"},"transform":[{"filter":"datum.t==='WHLBLD'"}],"encoding":{"x":{"field":"g","type":"nominal","sort":["NMD⁻","NMD⁺"],"title":null,"axis":{"grid":true,"bandPosition":0.5}},"color":{"field":"g","type":"nominal","title":null,"scale":{"domain":["NMD⁻","NMD⁺"],"range":["#FF7F50","#006400"]},"legend":{"orient":"none","legendX":620,"legendY":370,"symbolType":"M-1,-0.6H1V0.6H-1Z M-1,0H1 M0,-0.6V-1 M0,0.6V1","symbolSize":440,"symbolStrokeWidth":1.5,"symbolFillColor":"#F2F2F2"}}},"resolve":{"axis":{"y":"independent"}},"layer":[
{"layer":[
{"mark":{"type":"bar","filled":false,"strokeWidth":1.3},"encoding":{"y":{"field":"q1","type":"quantitative","scale":{"zero":false,"nice":false,"padding":6.5},"axis":{"title":null,"values":[0.25,0.5,0.75],"format":".2f"}},"y2":{"field":"q3"}}},
{"mark":{"type":"rule","strokeWidth":1.3},"encoding":{"y":{"field":"lo","type":"quantitative"},"y2":{"field":"q1"}}},
{"mark":{"type":"rule","strokeWidth":1.3},"encoding":{"y":{"field":"q3","type":"quantitative"},"y2":{"field":"hi"}}},
{"mark":{"type":"circle","filled":false,"size":13,"strokeWidth":4,"opacity":0.12},"encoding":{"y":{"field":"v","type":"quantitative"}}}]},
{"mark":{"type":"tick","filled":false,"thickness":1.5,"strokeWidth":1.5,"size":26},"encoding":{"y":{"field":"med","type":"quantitative","axis":{"title":null,"orient":"left","values":[0.125,0.375,0.625,0.875],"labels":false,"ticks":false,"domain":false,"gridWidth":0.6}}}}]}
],
"config":{
"view":{"fill":"#EBEBEB","stroke":null},
"scale":{"bandPaddingInner":0.25,"barBandPaddingInner":0.25,"bandPaddingOuter":0.225},
"text":{"font":"Liberation Sans","fontWeight":"bold","fontSize":13,"color":"#1A1A1A"},
"axis":{"labelOverlap":false},
"axisX":{"domainColor":"black","domainWidth":1.8,"tickColor":"#333333","tickSize":3,"labelFont":"Liberation Serif","labelFontWeight":"bold","labelFontSize":11,"labelColor":"black","labelAngle":0,"labelPadding":2,"gridColor":"white","gridWidth":1.3,"minExtent":20},
"axisY":{"domainColor":"black","domainWidth":3,"tickColor":"#333333","tickSize":3.5,"labelFont":"Liberation Sans","labelFontSize":13.5,"labelColor":"#1A1A1A","labelPadding":2,"gridColor":"white","gridWidth":1.3},
"legend":{"labelFont":"Liberation Serif","labelFontWeight":"bold","labelFontSize":13,"labelColor":"black","rowPadding":0}
}
}
